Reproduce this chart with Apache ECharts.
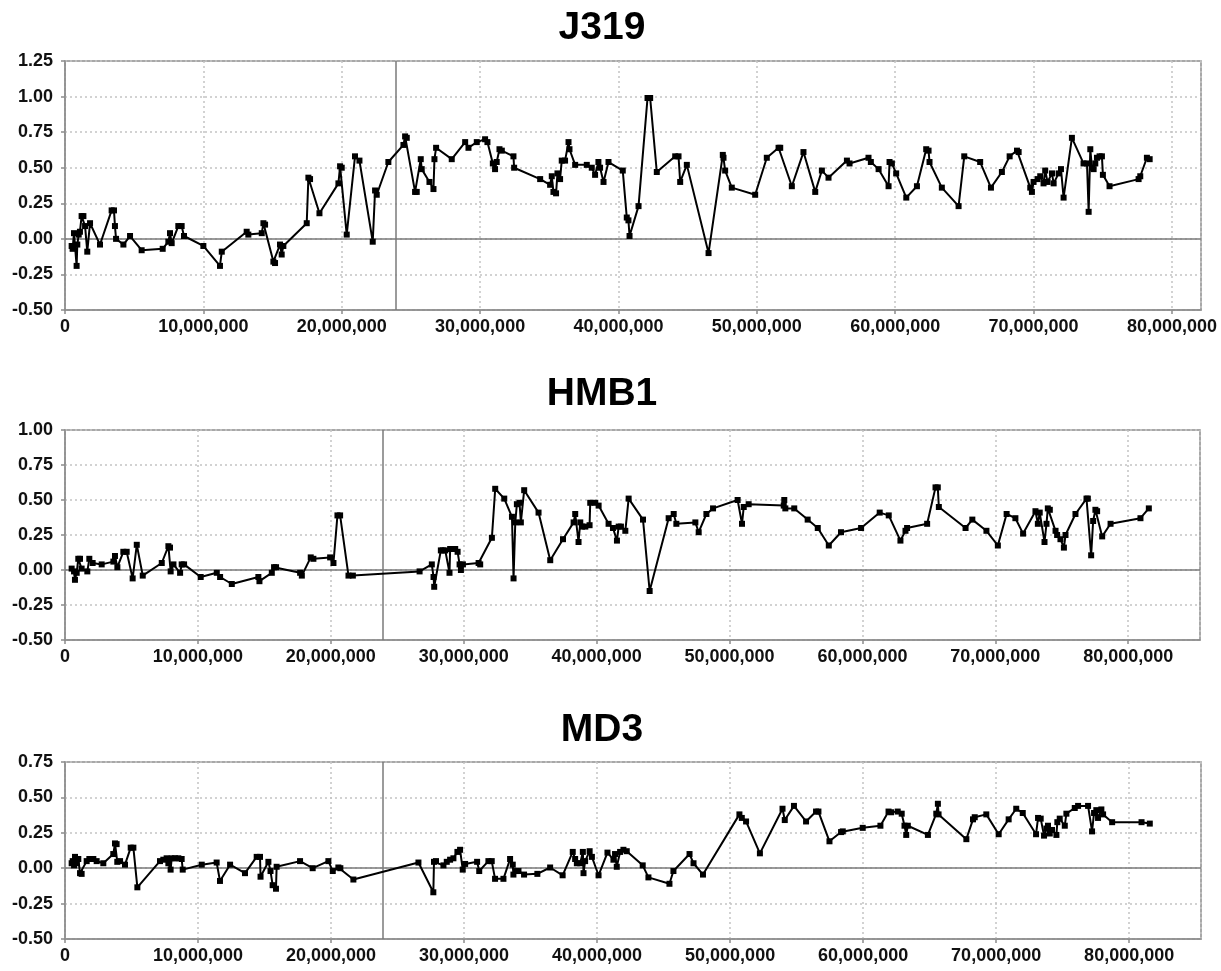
<!DOCTYPE html>
<html>
<head>
<meta charset="utf-8">
<title>J319 / HMB1 / MD3</title>
<script src="https://cdn.jsdelivr.net/npm/echarts@6/dist/echarts.min.js"></script>
<style>
  html, body { margin: 0; padding: 0; background: #ffffff; }
  #chart { width: 1221px; height: 971px; }
</style>
</head>
<body>
<div id="chart"></div>
<script>
// Positions along the chromosome (Mb) and the plotted statistic for each sample
const j319Pos = [0.48,0.55,0.65,0.84,0.89,0.99,1.08,1.20,1.33,1.45,1.61,1.81,2.53,3.37,3.54,3.61,3.69,4.22,4.70,5.54,
  7.06,7.47,7.59,7.71,8.19,8.43,8.60,10.0,11.2,11.33,13.13,13.25,14.22,14.34,14.46,15.06,15.18,15.54,15.66,15.78,
  17.47,17.59,17.71,18.39,19.76,19.88,20.0,20.36,20.96,21.28,22.24,22.41,22.53,23.37,24.46,24.58,24.70,
  25.30,25.42,25.71,25.78,26.34,26.63,26.70,26.82,27.95,28.92,29.16,29.76,30.36,30.53,30.92,31.08,31.20,31.40,31.57,
  32.41,32.46,34.34,35.06,35.18,35.30,35.49,35.59,35.78,35.90,36.14,36.39,36.46,36.87,37.71,38.07,38.31,38.55,38.67,
  38.92,39.28,40.31,40.60,40.72,40.80,41.45,42.10,42.29,42.77,44.10,44.34,44.46,44.94,46.51,47.54,47.59,47.71,48.19,
  49.88,50.72,51.57,51.69,52.53,53.37,54.22,54.70,55.18,56.51,56.70,58.07,58.24,58.80,59.52,59.59,59.76,60.07,60.80,
  61.57,62.24,62.41,62.48,63.37,64.58,64.99,66.14,66.92,67.71,68.27,68.80,68.92,69.76,69.88,70.00,70.29,70.48,70.72,
  70.84,71.01,71.33,71.45,71.81,71.98,72.17,72.77,73.61,73.86,73.98,74.10,74.22,74.34,74.46,74.58,74.77,74.94,75.01,
  75.49,77.59,77.71,78.19,78.39];
const j319Val = [-0.05,-0.07,0.04,-0.19,-0.04,0.03,0.05,0.16,0.16,0.09,-0.09,0.11,-0.04,0.20,0.20,0.09,0.00,-0.04,0.02,-0.08,
  -0.07,-0.02,0.04,-0.03,0.09,0.09,0.02,-0.05,-0.19,-0.09,0.05,0.03,0.04,0.11,0.10,-0.16,-0.17,-0.04,-0.11,-0.05,
  0.11,0.43,0.42,0.18,0.39,0.51,0.50,0.03,0.58,0.55,-0.02,0.34,0.31,0.54,0.66,0.72,0.71,
  0.33,0.33,0.56,0.49,0.40,0.35,0.56,0.64,0.56,0.68,0.64,0.68,0.70,0.68,0.53,0.49,0.54,0.63,0.62,
  0.58,0.50,0.42,0.38,0.44,0.33,0.32,0.46,0.42,0.55,0.55,0.68,0.63,0.52,0.52,0.50,0.45,0.54,0.50,
  0.40,0.54,0.48,0.15,0.13,0.02,0.23,0.99,0.99,0.47,0.58,0.58,0.40,0.52,-0.10,0.59,0.57,0.48,0.36,
  0.31,0.57,0.64,0.64,0.37,0.61,0.33,0.48,0.43,0.55,0.53,0.57,0.54,0.49,0.37,0.54,0.53,0.46,0.29,
  0.37,0.63,0.62,0.54,0.36,0.23,0.58,0.54,0.36,0.47,0.58,0.62,0.61,0.36,0.33,0.40,0.42,0.44,0.39,
  0.48,0.40,0.46,0.39,0.46,0.49,0.29,0.71,0.53,0.53,0.19,0.63,0.50,0.49,0.53,0.57,0.58,0.58,0.45,
  0.37,0.42,0.44,0.57,0.56];

const hmb1Pos = [0.50,0.68,0.75,0.88,1.00,1.13,1.25,1.68,1.83,2.08,2.76,3.64,3.76,3.94,4.39,4.64,5.09,5.40,5.85,
  7.28,7.78,7.90,7.95,8.16,8.66,8.78,8.96,10.21,11.42,11.67,12.55,14.55,14.63,15.56,15.73,15.88,17.69,17.82,18.49,18.69,
  19.95,20.20,20.50,20.70,21.33,21.66,26.68,27.60,27.73,27.78,28.28,28.43,28.61,28.93,28.98,29.36,29.54,29.69,29.79,29.94,
  31.12,31.24,32.12,32.37,33.05,33.63,33.75,33.88,34.00,34.20,34.30,34.55,35.63,36.51,37.47,38.27,38.39,38.64,38.77,38.90,
  39.15,39.47,39.52,39.90,40.15,40.90,41.23,41.53,41.66,41.83,42.16,42.41,43.49,43.99,45.42,45.80,46.00,47.43,47.68,48.26,
  48.76,50.61,50.94,51.07,51.44,54.08,54.12,54.20,54.87,55.88,56.64,57.47,58.39,59.90,61.30,61.98,62.86,63.24,63.36,
  64.87,65.50,65.67,65.75,67.76,68.27,69.33,70.19,70.85,71.51,72.09,73.02,73.20,73.34,73.70,73.85,73.95,74.10,74.53,
  74.65,74.90,75.16,75.28,76.03,76.86,76.96,77.21,77.36,77.53,77.66,78.04,78.67,80.92,81.55];
const hmb1Val = [0.01,-0.01,-0.07,-0.02,0.08,0.08,0.01,-0.01,0.08,0.05,0.04,0.06,0.10,0.02,0.13,0.13,-0.06,0.18,-0.04,
  0.05,0.17,0.16,-0.01,0.04,-0.02,0.04,0.04,-0.05,-0.02,-0.05,-0.10,-0.05,-0.08,-0.02,0.02,0.02,-0.02,-0.04,0.09,0.08,
  0.09,0.05,0.39,0.39,-0.04,-0.04,-0.01,0.04,-0.05,-0.12,0.14,0.14,0.14,-0.02,0.15,0.15,0.13,0.04,0.00,0.04,
  0.05,0.04,0.23,0.58,0.51,0.38,-0.06,0.34,0.47,0.48,0.34,0.57,0.41,0.07,0.22,0.34,0.40,0.20,0.34,0.31,
  0.31,0.32,0.48,0.48,0.46,0.33,0.30,0.21,0.31,0.31,0.28,0.51,0.36,-0.15,0.37,0.40,0.33,0.34,0.27,0.40,
  0.44,0.50,0.33,0.45,0.47,0.46,0.50,0.44,0.44,0.36,0.30,0.175,0.27,0.30,0.41,0.39,0.21,0.28,0.30,
  0.33,0.59,0.59,0.45,0.30,0.36,0.28,0.175,0.40,0.37,0.26,0.42,0.33,0.41,0.20,0.33,0.44,0.43,0.28,
  0.25,0.22,0.16,0.25,0.40,0.51,0.51,0.105,0.35,0.43,0.42,0.24,0.33,0.37,0.44];

const md3Pos = [0.50,0.58,0.68,0.75,0.88,1.00,1.13,1.25,1.63,1.83,2.13,2.38,2.88,3.63,3.76,3.88,3.93,4.14,4.51,4.94,5.14,5.44,
  7.14,7.39,7.64,7.77,7.94,8.02,8.27,8.52,8.77,8.85,10.28,11.40,11.65,12.41,13.53,14.41,14.66,14.70,15.29,15.45,15.61,15.86,15.91,
  17.67,18.62,19.80,20.13,20.55,20.70,21.68,26.57,27.69,27.74,27.89,28.45,28.70,28.95,29.20,29.50,29.70,29.90,30.08,
  30.98,31.14,31.83,32.08,32.33,32.96,33.46,33.66,33.71,33.91,34.09,34.51,35.51,36.47,37.41,38.17,38.35,38.48,38.73,38.93,38.98,
  39.10,39.44,39.61,40.11,40.78,41.23,41.35,41.48,41.73,41.98,42.23,43.43,43.86,45.44,45.74,46.95,47.25,47.96,
  50.70,50.88,51.20,52.24,53.94,54.11,54.80,55.71,56.46,56.64,57.47,58.34,58.47,59.97,61.30,61.91,62.10,62.60,62.90,63.11,63.24,63.36,
  64.87,65.50,65.62,65.67,67.76,68.26,68.39,69.26,70.19,70.94,71.51,72.00,73.00,73.15,73.35,73.60,73.78,73.90,74.03,74.20,
  74.53,74.60,74.78,75.16,75.28,75.91,76.16,76.91,77.21,77.36,77.53,77.66,77.91,78.04,78.72,80.93,81.55];
const md3Val = [0.035,0.05,0.02,0.08,0.035,0.065,-0.035,-0.04,0.05,0.065,0.065,0.05,0.035,0.10,0.175,0.17,0.045,0.05,0.025,0.145,0.145,-0.135,
  0.05,0.06,0.07,0.035,-0.01,0.07,0.07,0.07,0.065,-0.01,0.025,0.04,-0.09,0.025,-0.035,0.08,0.08,-0.06,0.045,-0.02,-0.12,-0.145,0.01,
  0.05,0.00,0.05,-0.02,0.005,0.00,-0.08,0.04,-0.17,0.045,0.05,0.02,0.045,0.06,0.07,0.115,0.13,-0.01,0.03,
  0.045,-0.02,0.05,0.05,-0.075,-0.075,0.065,0.025,-0.045,-0.02,-0.02,-0.045,-0.04,0.005,-0.05,0.115,0.065,0.035,0.035,0.115,-0.035,
  0.05,0.12,0.08,-0.05,0.11,0.06,0.10,0.01,0.115,0.13,0.12,0.02,-0.065,-0.11,-0.02,0.10,0.035,-0.045,
  0.38,0.355,0.33,0.105,0.42,0.34,0.44,0.33,0.40,0.40,0.19,0.255,0.26,0.285,0.30,0.40,0.395,0.40,0.385,0.30,0.235,0.30,
  0.235,0.385,0.455,0.38,0.205,0.345,0.36,0.38,0.24,0.345,0.42,0.39,0.24,0.355,0.35,0.23,0.28,0.30,0.245,0.27,
  0.235,0.325,0.35,0.30,0.385,0.425,0.44,0.44,0.26,0.39,0.41,0.355,0.415,0.38,0.325,0.325,0.315];

const panelTitles = ['J319', 'HMB1', 'MD3'];
const yMax = [1.25, 1.00, 0.75];
const yMin = -0.5;
const xMax = [82.1, 85.4, 85.4];      // Mb, right edge of each plot
const centromere = 23.9;              // Mb, vertical marker

const grids = [
  { left: 65, top: 61, width: 1136, height: 249 },
  { left: 65, top: 430, width: 1135, height: 210 },
  { left: 65, top: 762, width: 1136, height: 177 }
];
const titleY = [28.5, 394, 730];

const FONT = '"Liberation Sans", Arial, sans-serif';
const AXIS_COL = '#8c8c8c';
const GRID_COL = '#c4c4c4';

function withCommas(n) {
  return String(n).replace(/\B(?=(\d{3})+(?!\d))/g, ',');
}

function zip(xs, ys) {
  return xs.map((x, i) => [x, ys[i]]);
}

const seriesData = [zip(j319Pos, j319Val), zip(hmb1Pos, hmb1Val), zip(md3Pos, md3Val)];

const option = {
  animation: false,
  backgroundColor: '#ffffff',
  grid: grids.map(g => Object.assign({
    show: true, borderColor: AXIS_COL, borderWidth: 1.5, backgroundColor: 'transparent', containLabel: false
  }, g)),
  xAxis: grids.map((g, i) => ({
    type: 'value', gridIndex: i, min: 0, max: xMax[i], interval: 10,
    axisLine: { show: true, onZero: false, lineStyle: { color: AXIS_COL, width: 1.5 } },
    axisTick: { show: true, inside: false, length: 4, lineStyle: { color: AXIS_COL, width: 1.5 } },
    axisLabel: {
      color: '#111', fontFamily: FONT, fontWeight: 'bold', fontSize: 18, margin: 8,
      showMaxLabel: false, hideOverlap: false,
      formatter: v => (Math.abs(v % 10) < 1e-9 ? withCommas(Math.round(v * 1e6)) : '')
    },
    splitLine: { show: true, lineStyle: { color: GRID_COL, width: 1.5, type: [2, 3] } }
  })),
  yAxis: grids.map((g, i) => ({
    type: 'value', gridIndex: i, min: yMin, max: yMax[i], interval: 0.25,
    axisLine: { show: true, onZero: false, lineStyle: { color: AXIS_COL, width: 1.5 } },
    axisTick: { show: true, inside: false, length: 4, lineStyle: { color: AXIS_COL, width: 1.5 } },
    axisLabel: {
      color: '#111', fontFamily: FONT, fontWeight: 'bold', fontSize: 18, margin: 12,
      formatter: v => v.toFixed(2)
    },
    splitLine: { show: true, lineStyle: { color: GRID_COL, width: 1.5, type: [2, 3] } }
  })),
  // Panel titles, placed in absolute pixels above each plot
  graphic: panelTitles.map((t, i) => ({
    type: 'text', silent: true, x: 602, y: titleY[i],
    style: { text: t, textAlign: 'center', textVerticalAlign: 'middle', fill: '#000', font: 'bold 39px ' + FONT }
  })),
  series: seriesData.map((d, i) => ({
    type: 'line', xAxisIndex: i, yAxisIndex: i, data: d,
    symbol: 'rect', symbolSize: 6, showAllSymbol: true,
    lineStyle: { color: '#000', width: 2 },
    itemStyle: { color: '#000' },
    z: 5,
    markLine: {
      silent: true, symbol: 'none', label: { show: false }, animation: false,
      lineStyle: { type: 'solid', color: '#7a7a7a', width: 1.5 },
      data: [{ yAxis: 0 }, { xAxis: centromere }]
    }
  }))
};

const chart = echarts.init(document.getElementById('chart'), null, { renderer: 'canvas' });
chart.setOption(option);
</script>
</body>
</html>
